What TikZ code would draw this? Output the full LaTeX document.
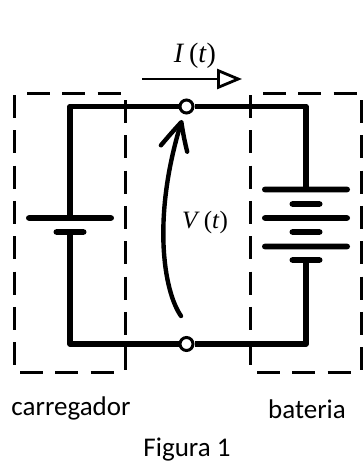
\documentclass[tikz,border=0pt]{standalone}
\usepackage{fontspec}
\setmainfont{Carlito}
\newfontfamily\timesfont{Liberation Serif}
\usetikzlibrary{arrows.meta,bending}
\begin{document}
\begin{tikzpicture}
    [ x=1pt, y=-1pt
    , wire/.style={line width=5.6pt, line join=round}
    , boxline/.style={line width=3pt, dash pattern=on 23pt off 12.3pt}
    , terminal/.style={shape=circle, draw, line width=3pt, fill=white, minimum size=13pt, inner sep=0pt}
    , plate/.style={shape=rectangle, fill=black, rounded corners=2.8pt, minimum height=5.6pt, inner sep=0pt}
    , longplate/.style={plate, minimum width=88pt}
    , shortplate/.style={plate, minimum width=33pt}
    , label/.style={font=\fontsize{27}{30}\selectfont, inner sep=0pt}
    , symbol/.style={font=\timesfont\fontsize{28}{30}\selectfont, inner sep=0pt}
    ]
\useasboundingbox (0,0) rectangle (363,464);
% carregador
\draw[boxline] (14,95) -- (14,366);
\draw[boxline] (125,100) -- (125,371);
\draw[boxline] (27,93) -- (121,93);
\draw[boxline] (20,372) -- (114,372);
% bateria
\draw[boxline] (250,95) -- (250,366);
\draw[boxline] (361,100) -- (361,371);
\draw[boxline] (263,93) -- (357,93);
\draw[boxline] (257,372) -- (351,372);
\node[terminal] (top) at (186.5,106.5) {};
\node[terminal] (bot) at (186.5,344) {};
\node[longplate] (c1) at (70,218) {};
\node[shortplate] (c2) at (70,232) {};
\node[longplate] (b1) at (306,189.5) {};
\node[shortplate] (b2) at (306,204) {};
\node[longplate] (b3) at (306,218) {};
\node[shortplate] (b4) at (306,232) {};
\node[longplate] (b5) at (306,246.5) {};
\node[shortplate] (b6) at (306,260) {};
\draw[wire] (top) -| (c1);
\draw[wire] (c2) |- (bot);
\draw[wire] (top) -| (b1);
\draw[wire] (b6) |- (bot);
\coordinate (from) at (181,316);
\coordinate (to) at (182,120);
\draw[line width=4.4pt, line cap=round, -{Straight Barb[length=28pt,width=27pt,line width=4.4pt,round,bend]}]
    (from) .. controls (163,290) and (152,215) .. (to);
\coordinate (left) at (142,79);
\coordinate (right) at (242,79);
\draw[line width=2.8pt, -{Triangle[open,length=25pt,width=20pt,line width=2.8pt]}] (left) -- (right);
\node[symbol] (cur) at (195,56) {\textit{I}\,(\textit{t})};
\node[symbol,font=\timesfont\fontsize{25}{28}\selectfont] (volt) at (205,222) {\textit{V}\,(\textit{t})};
\node[label] (charger) at (71,408.5) {carregador};
\node[label] (battery) at (307,409.5) {bateria};
\node[label] (title) at (187,449.5) {Figura 1};
\end{tikzpicture}
\end{document}
